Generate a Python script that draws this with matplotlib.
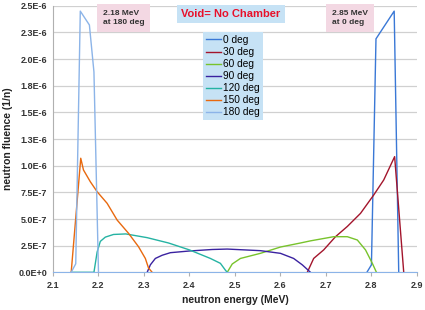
import matplotlib
matplotlib.use("Agg")
import matplotlib.pyplot as plt
from matplotlib.ticker import MultipleLocator, FuncFormatter

plt.rcParams['font.family'] = ['Liberation Sans', 'DejaVu Sans']

# neutron energy (MeV) / fluence (1e-6 per n) for each angle
e_0 = [2.79, 2.80, 2.81, 2.85, 2.86]
f_0 = [0, 0.07, 2.19, 2.45, 0]

e_30 = [2.659, 2.673, 2.695, 2.721, 2.747, 2.776, 2.805, 2.827, 2.851, 2.871]
f_30 = [0, 0.13, 0.21, 0.334, 0.43, 0.553, 0.725, 0.866, 1.085, 0]

e_60 = [2.483, 2.494, 2.512, 2.556, 2.60, 2.644, 2.666, 2.717, 2.747, 2.769, 2.787, 2.802, 2.811]
f_60 = [0, 0.078, 0.13, 0.178, 0.237, 0.275, 0.295, 0.334, 0.334, 0.303, 0.21, 0.084, 0]

e_90 = [2.307, 2.314, 2.325, 2.34, 2.358, 2.40, 2.45, 2.483, 2.556, 2.60, 2.629, 2.648, 2.666]
f_90 = [0, 0.07, 0.13, 0.16, 0.184, 0.20, 0.214, 0.218, 0.203, 0.178, 0.13, 0.07, 0]

e_120 = [2.14, 2.19, 2.197, 2.204, 2.215, 2.233, 2.26, 2.307, 2.354, 2.40, 2.446, 2.468, 2.479, 2.483]
f_120 = [0, 0, 0.19, 0.29, 0.33, 0.355, 0.36, 0.325, 0.275, 0.21, 0.13, 0.084, 0.02, 0]

e_150 = [2.14, 2.161, 2.167, 2.182, 2.197, 2.219, 2.241, 2.266, 2.288, 2.303, 2.31, 2.318]
f_150 = [0, 1.07, 0.96, 0.85, 0.756, 0.647, 0.49, 0.366, 0.24, 0.13, 0.04, 0]

e_180 = [2.14, 2.15, 2.16, 2.18, 2.19, 2.20]
f_180 = [0, 0.08, 2.45, 2.32, 1.88, 0]

series = [
    ("0 deg", e_0, f_0, "#3a78d6"),
    ("30 deg", e_30, f_30, "#a3152c"),
    ("60 deg", e_60, f_60, "#78c32c"),
    ("90 deg", e_90, f_90, "#3a22a0"),
    ("120 deg", e_120, f_120, "#25b3a3"),
    ("150 deg", e_150, f_150, "#e8690f"),
    ("180 deg", e_180, f_180, "#8cb4e8"),
]

fig = plt.figure(figsize=(4.25, 3.1), dpi=100)
ax = fig.add_axes([0.1247, 0.1216, 0.8563, 0.8597])

for name, e, f, c in series:
    ax.plot(e, [v * 1e-6 for v in f], color=c, lw=1.0, label=name)

ax.set_xlim(2.1, 2.9)
ax.set_ylim(0, 2.5e-6)
ax.xaxis.set_major_locator(MultipleLocator(0.1))
ax.yaxis.set_major_locator(MultipleLocator(2.5e-7))


def sci(v, pos):
    if v == 0:
        return "0.0E+0"
    s = "%.1E" % (v * 1.0000001)
    m, ex = s.split("E")
    return "%sE%d" % (m, int(ex))


ax.yaxis.set_major_formatter(FuncFormatter(sci))
ax.xaxis.set_major_formatter(FuncFormatter(lambda v, p: "%.1f" % v))
ax.grid(axis='y', color='#d0d0d0', lw=0.9)
ax.set_axisbelow(True)
for s in ['top', 'right']:
    ax.spines[s].set_visible(False)
ax.spines['left'].set_color('#b0b0b0')
ax.spines['bottom'].set_color('#8cb4e8')
ax.tick_params(axis='both', labelsize=6.5, colors='#333333', length=3, width=0.8)
ax.tick_params(axis='y', length=0, pad=4)
ax.tick_params(axis='x', color='#b0b0b0')
for lab in ax.get_xticklabels() + ax.get_yticklabels():
    lab.set_fontweight('bold')

fig.text(0.02, 0.553, "neutron fluence (1/n)", rotation=90, ha='center', va='center',
         fontsize=7.5, fontweight='bold', color='#222222')
fig.text(0.553, 0.032, "neutron energy (MeV)", ha='center', va='center',
         fontsize=7.5, fontweight='bold', color='#222222')

leg = ax.legend(loc='upper left', bbox_to_anchor=(203 / 425, 1 - 32 / 310),
                bbox_transform=fig.transFigure, fontsize=7.3, frameon=True,
                fancybox=False, handlelength=1.5, handletextpad=0.2,
                labelspacing=0.2, borderpad=0.3, borderaxespad=0)
leg.get_frame().set_facecolor('#c6e2f5')
leg.get_frame().set_edgecolor('none')
leg.get_frame().set_alpha(1)

fig.text(231 / 425, 1 - 14 / 310, "Void= No Chamber", ha='center', va='center',
         fontsize=8, fontweight='bold', color='#e8102a',
         bbox=dict(boxstyle='square,pad=0.35', fc='#c6e2f5', ec='none'))
fig.text(103 / 425, 1 - 18 / 310, "2.18 MeV\nat 180 deg", ha='left', va='center',
         fontsize=6, fontweight='bold', color='#333333', linespacing=1.4,
         bbox=dict(boxstyle='square,pad=0.7', fc='#f3d8e3', ec='none'))
fig.text(332 / 425, 1 - 18 / 310, "2.85 MeV\nat 0 deg", ha='left', va='center',
         fontsize=6, fontweight='bold', color='#333333', linespacing=1.4,
         bbox=dict(boxstyle='square,pad=0.7', fc='#f3d8e3', ec='none'))

fig.savefig("out.png", dpi=100)
